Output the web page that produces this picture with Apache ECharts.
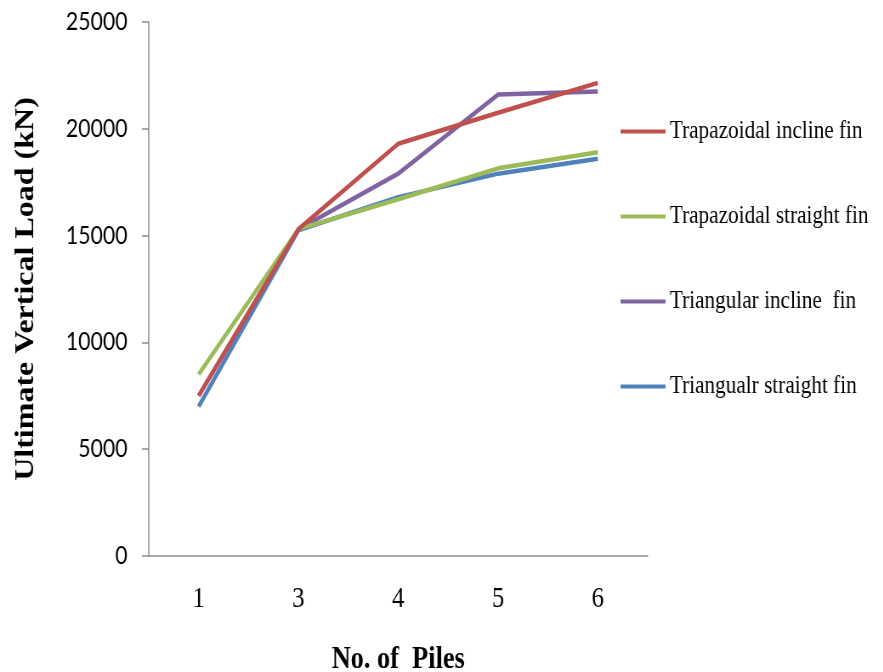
<!DOCTYPE html>
<html>
<head>
<meta charset="utf-8">
<script src="https://cdn.jsdelivr.net/npm/echarts@6/dist/echarts.min.js"></script>
<style>
  html, body { margin: 0; padding: 0; background: #fff; }
  #frame { position: relative; width: 883px; height: 672px; overflow: hidden; }
  /* the chart is laid out wider and condensed horizontally, giving narrow lettering */
  #chart { position: absolute; left: 0; top: 0; width: 1039px; height: 672px;
           transform: scaleX(0.85); transform-origin: 0 0; }
</style>
</head>
<body>
<div id="frame"><div id="chart"></div></div>
<script>
// Number of piles (category axis)
const piles = ['1', '3', '4', '5', '6'];

// Ultimate vertical load (kN) for each fin configuration
const trapInclineFin   = [7500, 15300, 19300, 20750, 22150];
const trapStraightFin  = [8500, 15300, 16700, 18150, 18900];
const triInclineFin    = [7500, 15300, 17900, 21600, 21750];
const triStraightFin   = [7000, 15250, 16800, 17900, 18600];

const seriesNames = [
  'Trapazoidal incline fin',
  'Trapazoidal straight fin',
  'Triangular incline  fin',
  'Triangualr straight fin'
];
const seriesColors = ['#C0504D', '#9BBB59', '#8064A2', '#4F81BD'];
const seriesData = [trapInclineFin, trapStraightFin, triInclineFin, triStraightFin];

const chart = echarts.init(document.getElementById('chart'));

const axisGray = '#8c8c8c';
const serif = '"Liberation Serif", "DejaVu Serif", serif';

chart.setOption({
  backgroundColor: '#ffffff',
  animation: false,
  grid: { left: 175, right: 277, top: 22, bottom: 116, outerBoundsMode: 'none', containLabel: false },
  legend: {
    orient: 'vertical',
    left: 725,
    top: 114,
    icon: 'rect',
    itemWidth: 53,
    itemHeight: 4,
    itemGap: 60,
    textStyle: { fontFamily: serif, fontSize: 25, color: '#000', lineHeight: 25 },
    data: seriesNames
  },
  xAxis: {
    type: 'category',
    data: piles,
    boundaryGap: true,
    axisLine: { lineStyle: { color: axisGray, width: 1.5 } },
    axisTick: { show: false },
    axisLabel: { margin: 29, fontFamily: serif, fontSize: 29, color: '#000' },
    name: 'No. of  Piles',
    nameLocation: 'middle',
    nameGap: 88,
    nameTextStyle: { fontFamily: serif, fontSize: 31, fontWeight: 'bold', color: '#000' }
  },
  yAxis: {
    type: 'value',
    min: 0,
    max: 25000,
    interval: 5000,
    axisLine: { show: true, lineStyle: { color: axisGray, width: 1.5 } },
    axisTick: { show: true, inside: false, length: 8, lineStyle: { color: axisGray, width: 1.5 } },
    splitLine: { show: false },
    axisLabel: {
      margin: 25,
      fontFamily: '"Lato", "Open Sans", sans-serif',
      fontSize: 25,
      color: '#000',
      formatter: v => String(v)
    },
    name: 'Ultimate Vertical Load (kN)',
    nameLocation: 'middle',
    nameGap: 128,
    nameTextStyle: { fontFamily: serif, fontSize: 32, fontWeight: 'bold', color: '#000' }
  },
  series: seriesNames.map((name, i) => ({
    name: name,
    type: 'line',
    data: seriesData[i],
    symbol: 'none',
    color: seriesColors[i],
    lineStyle: { width: 4.5, color: seriesColors[i] },
    z: 4 - i
  }))
});
</script>
</body>
</html>
